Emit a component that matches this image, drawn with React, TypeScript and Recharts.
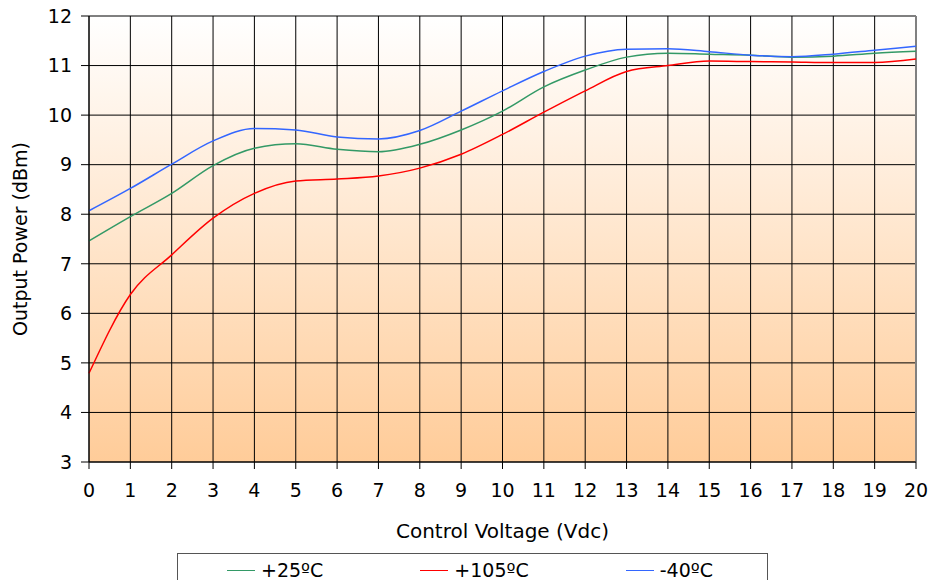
import React from "react";
import {
  CartesianGrid,
  Line,
  LineChart,
  ReferenceLine,
  XAxis,
  YAxis,
} from "recharts";

// Control voltage steps (Vdc)
const volts = [0, 1, 2, 3, 4, 5, 6, 7, 8, 9, 10, 11, 12, 13, 14, 15, 16, 17, 18, 19, 20];

// Output power (dBm) per temperature
const p25 = [7.46, 7.95, 8.42, 8.98, 9.33, 9.42, 9.31, 9.26, 9.41, 9.7, 10.08, 10.57, 10.91, 11.17, 11.25, 11.23, 11.21, 11.17, 11.19, 11.25, 11.29];
const p105 = [4.79, 6.38, 7.18, 7.92, 8.42, 8.67, 8.71, 8.77, 8.93, 9.21, 9.61, 10.06, 10.49, 10.88, 11.0, 11.09, 11.08, 11.07, 11.06, 11.06, 11.13];
const m40 = [8.07, 8.52, 9.01, 9.48, 9.73, 9.7, 9.56, 9.52, 9.69, 10.08, 10.49, 10.88, 11.19, 11.33, 11.34, 11.28, 11.21, 11.18, 11.23, 11.31, 11.39];

const yTicks = [3, 4, 5, 6, 7, 8, 9, 10, 11, 12];

const series = [
  { key: "p25", name: "+25ºC", color: "#339966" },
  { key: "p105", name: "+105ºC", color: "#ff0000" },
  { key: "m40", name: "-40ºC", color: "#3366ff" },
];

const data = volts.map((v, i) => ({
  v,
  p25: p25[i],
  p105: p105[i],
  m40: m40[i],
}));

const font = "'DejaVu Sans', Verdana, sans-serif";
const tickStyle = { fill: "#000", fontSize: 19, fontFamily: font };

export default function App() {
  return (
    <div
      style={{
        position: "absolute",
        left: 0,
        top: 0,
        width: 932,
        height: 580,
        background: "#fff",
        overflow: "hidden",
        fontFamily: font,
      }}
    >
      <LineChart
        width={932}
        height={580}
        data={data}
        margin={{ top: 16, right: 16, left: 0, bottom: 0 }}
      >
        <defs>
          <linearGradient id="bg" x1="0" y1="0" x2="0" y2="1">
            <stop offset="0%" stopColor="#ffffff" />
            <stop offset="100%" stopColor="#ffcc99" />
          </linearGradient>
        </defs>
        <CartesianGrid
          stroke="#000"
          strokeWidth={1}
          fill="url(#bg)"
          fillOpacity={1}
        />
        <XAxis
          dataKey="v"
          type="number"
          domain={[0, 20]}
          ticks={volts}
          interval={0}
          height={118}
          tickSize={7}
          tickMargin={15}
          stroke="#000"
          tick={tickStyle}
          label={{
            value: "Control Voltage (Vdc)",
            position: "insideBottom",
            offset: 42,
            style: { fill: "#000", fontSize: 20, fontFamily: font },
          }}
        />
        <YAxis
          type="number"
          domain={[3, 12]}
          ticks={yTicks}
          interval={0}
          width={89}
          tickSize={8}
          tickMargin={9}
          stroke="#000"
          tick={tickStyle}
          label={{
            value: "Output Power (dBm)",
            angle: -90,
            position: "insideLeft",
            offset: 20,
            style: {
              fill: "#000",
              fontSize: 19,
              fontFamily: font,
              textAnchor: "middle",
            },
          }}
        />
        <ReferenceLine x={20} stroke="#808080" strokeWidth={2} />
        {series.map((s) => (
          <Line
            key={s.key}
            type="monotone"
            dataKey={s.key}
            name={s.name}
            stroke={s.color}
            strokeWidth={1.5}
            dot={false}
            activeDot={false}
            isAnimationActive={false}
          />
        ))}
      </LineChart>
      <div
        style={{
          position: "absolute",
          left: 177,
          top: 553,
          width: 591,
          height: 40,
          border: "1px solid #555",
          background: "#fff",
          display: "flex",
          alignItems: "flex-start",
          paddingLeft: 49,
          paddingTop: 5,
          gap: 97,
          boxSizing: "border-box",
          fontSize: 19,
          lineHeight: "22px",
          color: "#000",
        }}
      >
        {series.map((s) => (
          <div key={s.key} style={{ display: "flex", alignItems: "center" }}>
            <div
              style={{
                width: 28,
                height: 0,
                borderTop: `1.5px solid ${s.color}`,
                marginRight: 6,
              }}
            />
            <span>{s.name}</span>
          </div>
        ))}
      </div>
    </div>
  );
}
